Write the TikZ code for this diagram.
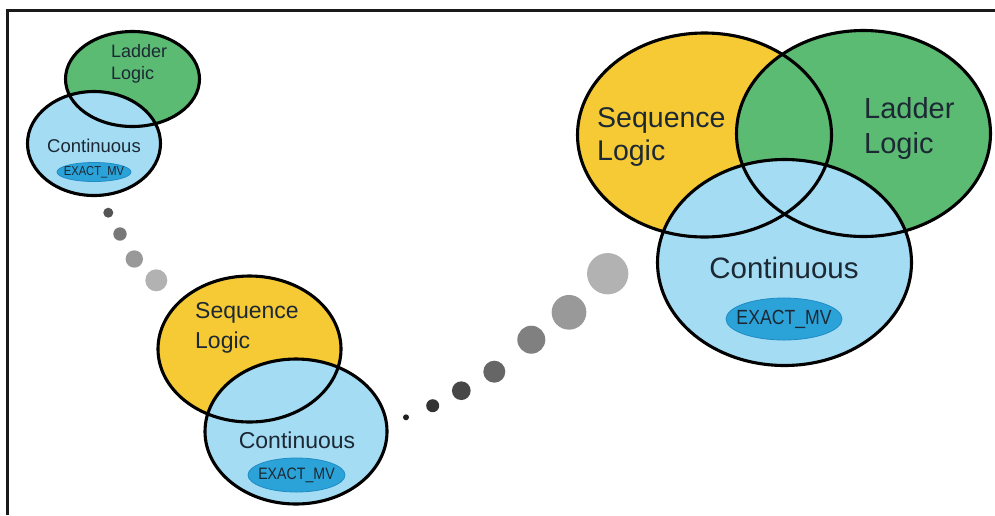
\documentclass[tikz,border=0pt]{standalone}
\usepackage{fontspec}
\setmainfont{Liberation Sans}
\usetikzlibrary{shapes.geometric}
\definecolor{seqyellow}{HTML}{F6CA34}
\definecolor{ladgreen}{HTML}{5CBB73}
\definecolor{contblue}{HTML}{A4DCF4}
\definecolor{mvblue}{HTML}{2BA3D9}
\definecolor{mvedge}{HTML}{1F8CC4}
\definecolor{inktext}{HTML}{1C2833}
\definecolor{frameink}{HTML}{1A1A1A}
\newcommand{\narrowtext}[1]{\scalebox{0.86}[1]{#1}}
\begin{document}
\begin{tikzpicture}[x=1pt,y=-1pt,
  setfill/.style={ellipse, inner sep=0pt, outer sep=0pt},
  setedge/.style={ellipse, inner sep=0pt, outer sep=0pt, draw=black, line width=3.1pt},
  mvbox/.style={ellipse, inner sep=0pt, fill=mvblue, draw=mvedge, line width=0.8pt},
  lbl/.style={text=inktext, inner sep=0pt, align=left},
  dot/.style={circle, inner sep=0pt, outer sep=0pt, draw=none}]
\useasboundingbox (0,0) rectangle (995,515);

% frame along the top and left edges
\coordinate (frameTop) at (995,10.5);
\coordinate (frameCorner) at (7.5,10.5);
\coordinate (frameBottom) at (7.5,515);
\draw[frameink, line width=3pt] (frameTop) -- (frameCorner) -- (frameBottom);

% ---- small group: ladder logic + continuous ----
\node[setfill, fill=ladgreen, minimum width=134pt, minimum height=95pt] (sLadF) at (132.5,79) {};
\node[setfill, fill=contblue, minimum width=133pt, minimum height=104pt] (sConF) at (94,143.5) {};
\node[setedge, minimum width=134pt, minimum height=95pt] (sLad) at (132.5,79) {};
\node[setedge, minimum width=133pt, minimum height=104pt] (sCon) at (94,143.5) {};
\node[lbl, anchor=west, font=\fontsize{18}{22}\selectfont] (sLadT) at (111,64) {Ladder\\Logic};
\node[lbl, font=\fontsize{18.5}{22}\selectfont] (sConT) at (94,146) {Continuous};
\node[mvbox, minimum width=74pt, minimum height=19pt] (sMV) at (94,172) {};
\node[lbl, font=\fontsize{13}{14}\selectfont] (sMVT) at (sMV.center) {\narrowtext{EXACT\_MV}};

% ---- middle group: sequence logic + continuous ----
\node[setfill, fill=seqyellow, minimum width=183pt, minimum height=146pt] (mSeqF) at (249.5,349) {};
\node[setfill, fill=contblue, minimum width=182pt, minimum height=145pt] (mConF) at (296,431.5) {};
\node[setedge, minimum width=183pt, minimum height=146pt] (mSeq) at (249.5,349) {};
\node[setedge, minimum width=182pt, minimum height=145pt] (mCon) at (296,431.5) {};
\node[lbl, anchor=west, font=\fontsize{23}{30}\selectfont] (mSeqT) at (195,328) {Sequence\\Logic};
\node[lbl, font=\fontsize{23}{26}\selectfont] (mConT) at (297,440) {Continuous};
\node[mvbox, minimum width=97pt, minimum height=34pt] (mMV) at (296.5,475) {};
\node[lbl, font=\fontsize{16.5}{18}\selectfont] (mMVT) at (mMV.center) {\narrowtext{EXACT\_MV}};

% ---- large group: sequence + ladder + continuous ----
\node[setfill, fill=seqyellow, minimum width=254pt, minimum height=204pt] (bSeqF) at (704.5,135) {};
\node[setfill, fill=ladgreen, minimum width=254pt, minimum height=206pt] (bLadF) at (863.5,133.5) {};
\node[setfill, fill=contblue, minimum width=254pt, minimum height=206pt] (bConF) at (784.5,262.5) {};
\node[setedge, minimum width=254pt, minimum height=204pt] (bSeq) at (704.5,135) {};
\node[setedge, minimum width=254pt, minimum height=206pt] (bLad) at (863.5,133.5) {};
\node[setedge, minimum width=254pt, minimum height=206pt] (bCon) at (784.5,262.5) {};
\node[lbl, anchor=west, font=\fontsize{28.5}{33}\selectfont] (bSeqT) at (597,137) {Sequence\\Logic};
\node[lbl, anchor=west, font=\fontsize{29}{35}\selectfont] (bLadT) at (864,128) {Ladder\\Logic};
\node[lbl, font=\fontsize{29.5}{32}\selectfont] (bConT) at (784,268) {Continuous};
\node[mvbox, minimum width=116pt, minimum height=42pt] (bMV) at (784,319) {};
\node[lbl, font=\fontsize{20.5}{22}\selectfont] (bMVT) at (bMV.center) {\narrowtext{EXACT\_MV}};

% ---- dotted trail from the small group to the middle group ----
\node[dot, fill=black!67, minimum size=10pt] (tA1) at (108.3,212.7) {};
\node[dot, fill=black!53, minimum size=13.4pt] (tA2) at (120,234) {};
\node[dot, fill=black!40, minimum size=17.4pt] (tA3) at (134.3,259) {};
\node[dot, fill=black!30, minimum size=22pt] (tA4) at (156.3,280.3) {};

% ---- dotted trail from the middle group to the large group ----
\node[dot, fill=black!87, minimum size=6pt] (tB1) at (406,417.3) {};
\node[dot, fill=black!80, minimum size=13pt] (tB2) at (432.7,405.7) {};
\node[dot, fill=black!72, minimum size=18.7pt] (tB3) at (461.3,390.7) {};
\node[dot, fill=black!60, minimum size=22pt] (tB4) at (494.3,371.7) {};
\node[dot, fill=black!50, minimum size=28pt] (tB5) at (531.3,339.7) {};
\node[dot, fill=black!40, minimum size=34.7pt] (tB6) at (569,312.3) {};
\node[dot, fill=black!30, minimum size=41.3pt] (tB7) at (607.7,273.7) {};
\end{tikzpicture}
\end{document}
